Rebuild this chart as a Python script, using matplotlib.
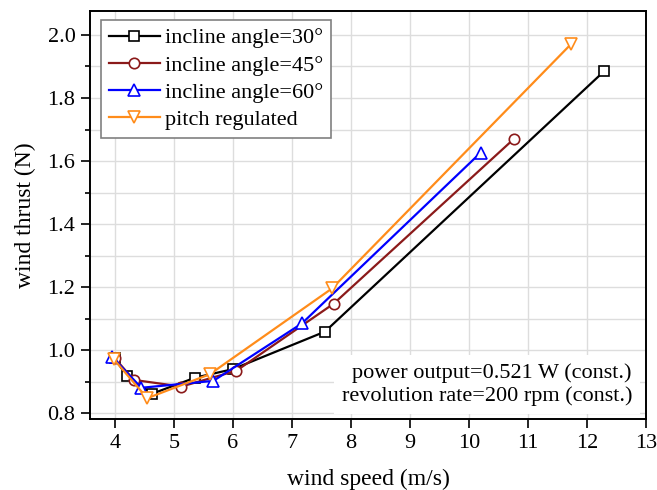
import matplotlib.pyplot as plt
from matplotlib.ticker import MultipleLocator

plt.rcParams['font.family'] = ['Liberation Serif', 'DejaVu Serif']

# wind speed (m/s) and wind thrust (N) for each configuration
speed_30 = [4.0, 4.2, 4.63, 5.36, 6.0, 7.56, 12.29]
thrust_30 = [0.975, 0.919, 0.862, 0.913, 0.94, 1.059, 1.885]

speed_45 = [4.0, 4.32, 5.13, 6.06, 7.71, 10.76]
thrust_45 = [0.975, 0.906, 0.885, 0.935, 1.148, 1.67]

speed_60 = [3.96, 4.45, 5.67, 7.17, 10.2]
thrust_60 = [0.978, 0.881, 0.903, 1.085, 1.627]

speed_pitch = [3.98, 4.55, 5.61, 7.68, 11.73]
thrust_pitch = [0.972, 0.848, 0.924, 1.196, 1.971]

labels = ['incline angle=30°', 'incline angle=45°', 'incline angle=60°', 'pitch regulated']

fig = plt.figure(figsize=(6.57, 4.9), dpi=100)
ax = fig.add_axes([90 / 657, 1 - 419 / 490, 556 / 657, 408 / 490])

ax.plot(speed_30, thrust_30, color='black', lw=1.6, marker='s', ms=7,
        mfc='white', mec='black', mew=1.2, label=labels[0])
ax.plot(speed_45, thrust_45, color='#8B1A1A', lw=1.6, marker='o', ms=7.5,
        mfc='white', mec='#8B1A1A', mew=1.2, label=labels[1])
ax.plot(speed_60, thrust_60, color='#0000FF', lw=1.6, marker='^', ms=8.5,
        mfc='white', mec='#0000FF', mew=1.2, label=labels[2])
ax.plot(speed_pitch, thrust_pitch, color='#FF8C1A', lw=1.6, marker='v', ms=8.5,
        mfc='white', mec='#FF8C1A', mew=1.2, label=labels[3])

ax.set_xlim(3.58, 13)
ax.set_ylim(0.782, 2.076)
ax.xaxis.set_major_locator(MultipleLocator(1))
ax.yaxis.set_major_locator(MultipleLocator(0.2))
ax.yaxis.set_minor_locator(MultipleLocator(0.1))
ax.yaxis.set_major_formatter(plt.FormatStrFormatter('%.1f'))

ax.grid(True, which='major', color='#dddddd', lw=1)
ax.grid(True, which='minor', axis='y', color='#dddddd', lw=1)
ax.set_axisbelow(True)

ax.tick_params(which='both', direction='out', top=False, right=False, labelsize=16, width=1.2)
ax.tick_params(which='major', length=6.5, pad=4)
ax.tick_params(which='minor', length=3.5)
for s in ax.spines.values():
    s.set_linewidth(1.4)

ax.set_xlabel('wind speed (m/s)', fontsize=17, labelpad=12)
ax.set_ylabel('wind thrust (N)', fontsize=17, labelpad=8)

leg = ax.legend(loc='upper left', fontsize=16, fancybox=False, framealpha=1,
                edgecolor='#808080', handlelength=2.3, borderpad=0.35,
                labelspacing=0.3, handletextpad=0.25, borderaxespad=0,
                bbox_to_anchor=(11 / 556, 1 - 9 / 408))
leg.get_frame().set_linewidth(1.2)

ax.text(1 - 14 / 556, 13 / 408, 'power output=0.521 W (const.)\nrevolution rate=200 rpm (const.)',
        transform=ax.transAxes, ha='right', va='bottom', fontsize=16,
        linespacing=1.25, bbox=dict(boxstyle='square,pad=0.35', facecolor='white', edgecolor='none'))

fig.savefig('out.png', dpi=100)
